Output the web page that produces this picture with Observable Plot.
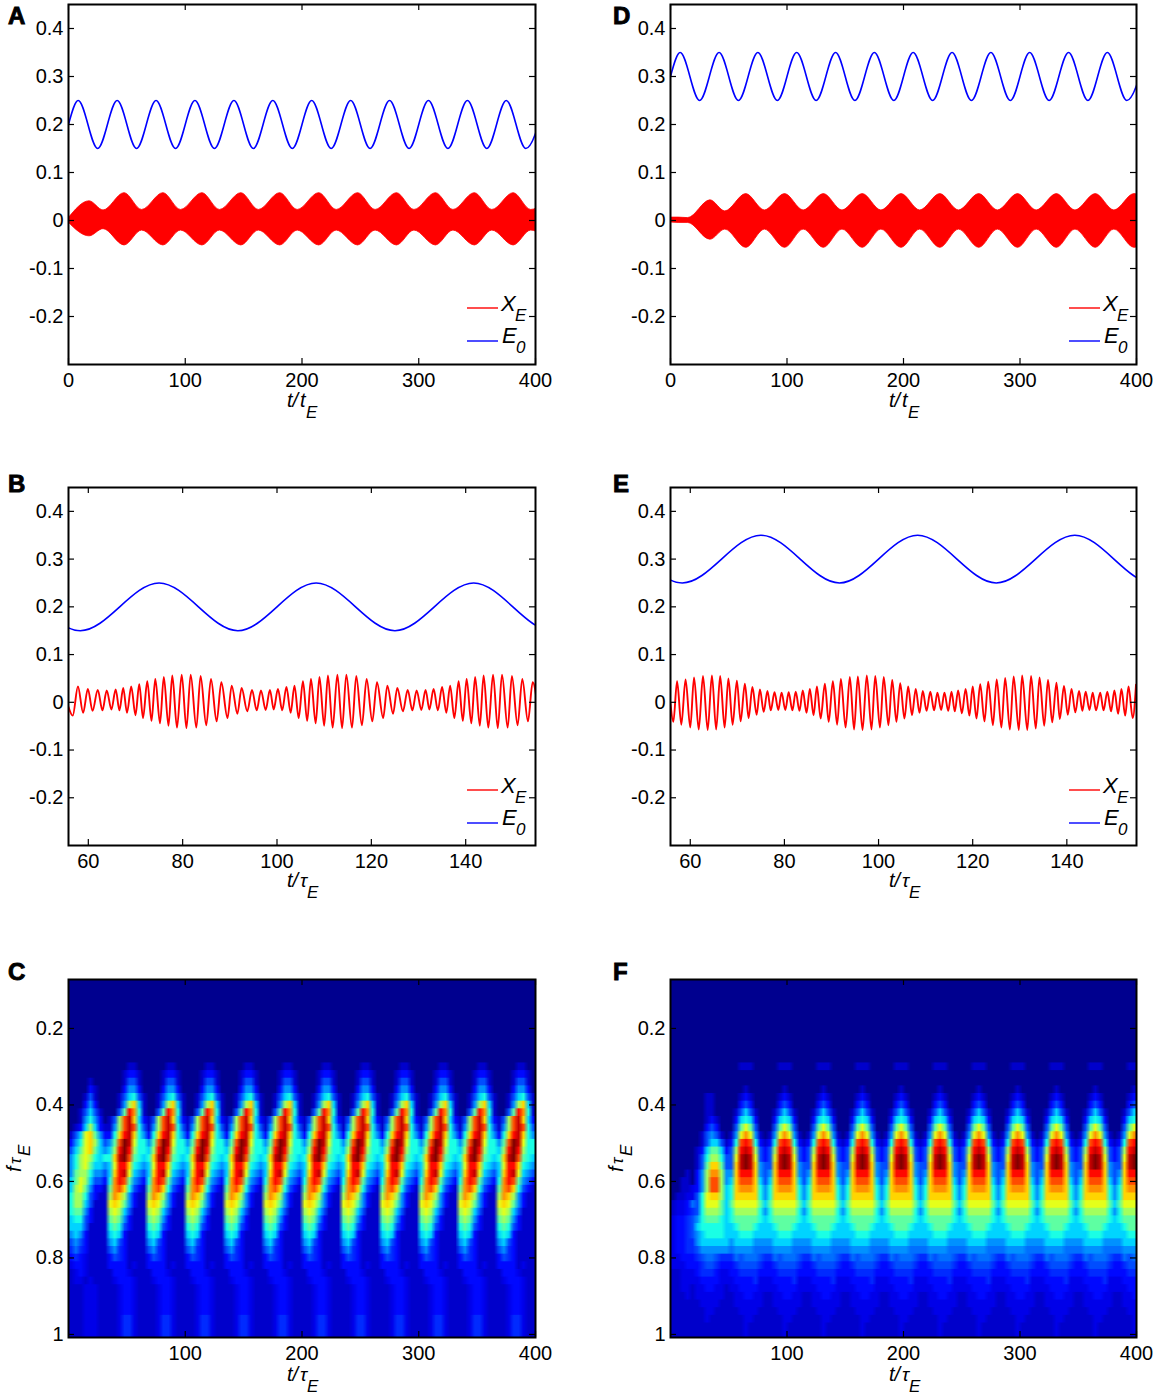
<!DOCTYPE html>
<html><head><meta charset="utf-8">
<script src="https://cdn.jsdelivr.net/npm/d3@7"></script>
<script src="https://cdn.jsdelivr.net/npm/@observablehq/plot@0.6"></script>
<style>
html,body{margin:0;padding:0;background:#fff}
#page{position:relative;width:1158px;height:1397px;overflow:hidden;font-family:"Liberation Sans",Arial,sans-serif}
#page>div,#page>svg{position:absolute}
#page svg{background:transparent}
</style></head><body><div id="page"></div>
<script>
// ---- E0 drive (extrema, same time base in all line panels)
const tDrive=[0,8.3,25,41.7,58.3,75,91.7,108.3,125,141.7,158.3,175,191.7,208.3,225,241.7,258.3,275,291.7,308.3,325,341.7,358.3,375,391.7,408.3];
const driveLeft=[.2,.25,.15,.25,.15,.25,.15,.25,.15,.25,.15,.25,.15,.25,.15,.25,.15,.25,.15,.25,.15,.25,.15,.25,.15,.25];
const driveRight=[.3,.35,.25,.35,.25,.35,.25,.35,.25,.35,.25,.35,.25,.35,.25,.35,.25,.35,.25,.35,.25,.35,.25,.35,.25,.35];
// ---- Panel A envelope of the dense X_E oscillation
const tEnvA=[0,18,30,48,63,81.3,96.3,114.7,129.7,148,163,181.3,196.3,214.7,229.7,248,263,281.3,296.3,314.7,329.7,348,363,381.3,396.3,414.7];
const upA=[.004,.04,.021,.057,.022,.057,.022,.057,.022,.057,.022,.057,.022,.057,.022,.057,.022,.057,.022,.057,.022,.057,.022,.057,.022,.057];
const loA=[-.004,-.033,-.018,-.052,-.021,-.052,-.021,-.052,-.021,-.052,-.021,-.052,-.021,-.052,-.021,-.052,-.021,-.052,-.021,-.052,-.021,-.052,-.021,-.052,-.021,-.052];
// ---- Panel D envelope
const tEnvD=[0,7,15,34.3,47,65,81,98.3,114.3,131.6,147.6,165,181,198.3,214.3,231.6,247.6,265,281,298.3,314.3,331.6,347.6,365,381,398.3,414.3];
const upD=[.006,.006,.005,.042,.019,.055,.021,.055,.021,.055,.021,.055,.021,.055,.021,.055,.021,.055,.021,.055,.021,.055,.021,.055,.021,.055,.021];
const loD=[-.004,-.005,-.005,-.04,-.019,-.057,-.019,-.057,-.019,-.057,-.019,-.057,-.019,-.057,-.019,-.057,-.019,-.057,-.019,-.057,-.019,-.057,-.019,-.057,-.019,-.057,-.019];
// ---- Panel B X_E extrema
const tB=[55.8,56.7,57.8,58.9,59.9,60.9,62,63,63.9,64.9,65.8,66.6,67.4,68.2,69.1,70,70.8,71.6,72.5,73.4,74.2,75.2,76,77,77.8,78.8,79.8,80.8,81.7,82.9,83.8,85,86,87.2,88.2,89.5,90.4,91.6,92.5,93.7,94.7,95.7,96.6,97.6,98.5,99.3,100.2,101.1,102,102.9,103.7,104.6,105.5,106.4,107.2,108.2,109,110,110.8,111.8,112.8,113.8,114.7,115.9,116.8,118,119,120.2,121.2,122.5,123.4,124.6,125.5,126.7,127.7,128.7,129.6,130.6,131.5,132.3,133.2,134.1,135,135.9,136.7,137.6,138.5,139.4,140.2,141.2,142,143,143.8,144.8,145.8,146.8,147.7,148.9,149.8,151,152,153.2,154.2,155.5];
const xB=[-.01,-.028,.033,-.022,.028,-.018,.026,-.017,.025,-.015,.027,-.017,.03,-.022,.033,-.027,.038,-.033,.044,-.039,.049,-.044,.053,-.049,.056,-.053,.058,-.054,.058,-.053,.055,-.048,.049,-.04,.042,-.033,.035,-.024,.03,-.019,.026,-.017,.025,-.016,.026,-.015,.028,-.017,.032,-.022,.035,-.033,.044,-.039,.049,-.044,.053,-.049,.056,-.053,.058,-.054,.058,-.053,.055,-.048,.049,-.04,.042,-.033,.035,-.024,.03,-.019,.026,-.017,.025,-.016,.026,-.015,.028,-.017,.032,-.022,.035,-.033,.044,-.039,.049,-.044,.053,-.049,.056,-.053,.058,-.054,.058,-.053,.055,-.048,.049,-.04,.042,-.033];
// ---- Panel E X_E extrema
const tE=[55.8,56.4,57.2,58.1,59.0,60.0,60.8,61.8,62.7,63.7,64.6,65.5,66.35,67.3,68.1,69.0,69.9,70.7,71.6,72.4,73.2,74.1,74.8,75.6,76.4,77.1,77.9,78.7,79.4,80.2,80.9,81.7,82.4,83.2,83.9,84.7,85.4,86.2,86.9,87.7,88.6,89.4,90.3,91.2,92.0,93,93.9,94.8,95.6,96.6,97.5,98.5,99.3,100.3,101.1,102.1,102.9,103.8,104.6,105.5,106.3,107.1,107.9,108.7,109.4,110.2,111,111.8,112.5,113.3,114,114.8,115.5,116.2,116.9,117.7,118.5,119.3,120,120.8,121.6,122.5,123.3,124.3,125.1,126.1,126.9,127.9,128.7,129.8,130.5,131.6,132.4,133.4,134.2,135.2,136,136.9,137.8,138.5,139.4,140.2,141,141.8,142.6,143.3,144,144.8,145.5,146.2,147.1,147.8,148.6,149.4,150.1,150.9,151.6,152.4,153.1,154,154.7];
const xE=[-.003,-.041,.044,-.047,.048,-.053,.052,-.057,.055,-.058,.056,-.057,.055,-.053,.05,-.047,.045,-.04,.039,-.033,.032,-.026,.027,-.02,.024,-.017,.021,-.016,.02,-.016,.021,-.017,.022,-.018,.025,-.022,.028,-.027,.033,-.034,.039,-.041,.044,-.047,.049,-.053,.053,-.057,.054,-.058,.056,-.057,.055,-.053,.053,-.048,.047,-.041,.04,-.034,.033,-.027,.028,-.022,.024,-.018,.022,-.017,.02,-.016,.02,-.018,.022,-.019,.025,-.023,.028,-.028,.033,-.034,.038,-.04,.043,-.048,.048,-.053,.051,-.057,.054,-.058,.056,-.058,.055,-.055,.052,-.049,.047,-.042,.041,-.035,.034,-.026,.028,-.021,.024,-.018,.022,-.016,.02,-.017,.02,-.017,.022,-.019,.025,-.024,.028,-.028,.033,-.033,.037];
// ---- Ticks
const yTicksLine=[-.2,-.1,0,.1,.2,.3,.4];
const xTicksLong=[0,100,200,300,400];
const xTicksShort=[60,80,100,120,140];
const xTicksMap=[100,200,300,400];
const yTicksMap=[.2,.4,.6,.8,1];
// ---- Spectrograms: power level per cell (hex digit, x/y/z = 1.5/2.5/3.5), row by row, t runs left to right
const freqs=[.08,.1,.12,.14,.16,.18,.2,.22,.24,.26,.28,.3,.32,.34,.36,.38,.4,.42,.44,.46,.48,.5,.52,.54,.56,.58,.6,.62,.64,.66,.68,.7,.72,.74,.76,.78,.8,.82,.84,.86,.88,.9,.92,.94,.96,.98,1];
const levelsC=["0","0","0","0","0","0","0","0","0","0","0",
"00000000 00001100 00001100 00001100 00001100 00001100 00001100 00001100 00001100 00001100 00001100 00001100",
"00000000 00012210 00012210 00012210 00012210 00012210 00012210 00012210 00012210 00012210 00012210 00012210",
"00001000 00013310 00013310 00013310 00013310 00013310 00013310 00013310 00013310 00013310 00013310 00013310",
"00002100 00024420 00024420 00024420 00024420 00024420 00024420 00024420 00024420 00024420 00024420 00024420",
"00013100 00135631 00135631 00135631 00135631 00135631 00135631 00135631 00135631 00135631 00135631 00135631",
"00024200 00148a51 00148a51 00148a51 00148a51 00148a51 00148a51 00148a51 00148a51 00148a51 00148a51 00148a51",
"00135310 0037db61 0037db61 0037db61 0037db61 0037db61 0037db61 0037db61 0037db61 0037db61 0037db61 0037db61",
"00146420 138cea52 138cea52 138cea52 138cea52 138cea52 138cea52 138cea52 138cea52 138cea52 138cea52 138cea52",
"01258521 148cec63 148cec63 148cec63 148cec63 148cec63 148cec63 148cec63 148cec63 148cec63 148cec63 148cec63",
"1359a742 26adea64 26adea64 26adea64 26adea64 26adea64 26adea64 26adea64 26adea64 26adea64 26adea64 26adea64",
"2469a853 47cfe966 47cfe966 47cfe966 47cfe966 47cfe966 47cfe966 47cfe966 47cfe966 47cfe966 47cfe966 47cfe966",
"3579a754 58dfd866 58dfd866 58dfd866 58dfd866 58dfd866 58dfd866 58dfd866 58dfd866 58dfd866 58dfd866 58dfd866",
"46898656 6aefc765 6aefc765 6aefc765 6aefc765 6aefc765 6aefc765 6aefc765 6aefc765 6aefc765 6aefc765 6aefc765",
"46897554 59dda654 59dda654 59dda654 59dda654 59dda654 59dda654 59dda654 59dda654 59dda654 59dda654 59dda654",
"47886443 5ade9543 5ade9543 5ade9543 5ade9543 5ade9543 5ade9543 5ade9543 5ade9543 5ade9543 5ade9543 5ade9543",
"57985332 6bdc7432 6bdc7432 6bdc7432 6bdc7432 6bdc7432 6bdc7432 6bdc7432 6bdc7432 6bdc7432 6bdc7432 6bdc7432",
"58974221 7bca6321 7bca6321 7bca6321 7bca6321 7bca6321 7bca6321 7bca6321 7bca6321 7bca6321 7bca6321 7bca6321",
"68863211 8ba84211 8ba84211 8ba84211 8ba84211 8ba84211 8ba84211 8ba84211 8ba84211 8ba84211 8ba84211 8ba84211",
"68853111 9a974211 9a974211 9a974211 9a974211 9a974211 9a974211 9a974211 9a974211 9a974211 9a974211 9a974211",
"67742111 89853111 89853111 89853111 89853111 89853111 89853111 89853111 89853111 89853111 89853111 89853111",
"56632111 78742111 78742111 78742111 78742111 78742111 78742111 78742111 78742111 78742111 78742111 78742111",
"55531111 67632111 67632111 67632111 67632111 67632111 67632111 67632111 67632111 67632111 67632111 67632111",
"45421111 56521111 56521111 56521111 56521111 56521111 56521111 56521111 56521111 56521111 56521111 56521111",
"34321111 45321111 45321111 45321111 45321111 45321111 45321111 45321111 45321111 45321111 45321111 45321111",
"yzy21111 34y21111 34y21111 34y21111 34y21111 34y21111 34y21111 34y21111 34y21111 34y21111 34y21111 34y21111",
"2y2x1111 23y21111 23y21111 23y21111 23y21111 23y21111 23y21111 23y21111 23y21111 23y21111 23y21111 23y21111",
"x22x1111 22221x11 22221x11 22221x11 22221x11 22221x11 22221x11 22221x11 22221x11 22221x11 22221x11 22221x11",
"1x2x1111 1222x111 1222x111 1222x111 1222x111 1222x111 1222x111 1222x111 1222x111 1222x111 1222x111 1222x111",
"1xx1x111 1x222x11 1x222x11 1x222x11 1x222x11 1x222x11 1x222x11 1x222x11 1x222x11 1x222x11 1x222x11 1x222x11",
"111xxx11 11x22x11 11x22x11 11x22x11 11x22x11 11x22x11 11x22x11 11x22x11 11x22x11 11x22x11 11x22x11 11x22x11",
"111xxx11 11x22x11 11x22x11 11x22x11 11x22x11 11x22x11 11x22x11 11x22x11 11x22x11 11x22x11 11x22x11 11x22x11",
"111xxx11 11x22x11 11x22x11 11x22x11 11x22x11 11x22x11 11x22x11 11x22x11 11x22x11 11x22x11 11x22x11 11x22x11",
"111xxx11 11x22x11 11x22x11 11x22x11 11x22x11 11x22x11 11x22x11 11x22x11 11x22x11 11x22x11 11x22x11 11x22x11",
"111xxx11 11xyyx11 11xyyx11 11xyyx11 11xyyx11 11xyyx11 11xyyx11 11xyyx11 11xyyx11 11xyyx11 11xyyx11 11xyyx11",
"111xxx11 11xyyx11 11xyyx11 11xyyx11 11xyyx11 11xyyx11 11xyyx11 11xyyx11 11xyyx11 11xyyx11 11xyyx11 11xyyx11",
"111xxx11 11xyyx11 11xyyx11 11xyyx11 11xyyx11 11xyyx11 11xyyx11 11xyyx11 11xyyx11 11xyyx11 11xyyx11 11xyyx11"];
const levelsF=["0","0","0","0","0","0","0","0","0","0","0",
"0000 00000000 00111000 00111000 00111000 00111000 00111000 00111000 00111000 00111000 00111000 00111000 0011",
"0","0",
"0000 00000000 00010000 00010000 00010000 00010000 00010000 00010000 00010000 00010000 00010000 00010000 0001",
"0000 00011000 00121000 00121000 00121000 00121000 00121000 00121000 00121000 00121000 00121000 00121000 0012",
"0000 00011000 00232000 00232000 00232000 00232000 00232000 00232000 00232000 00232000 00232000 00232000 0023",
"0000 00011000 01353100 01353100 01353100 01353100 01353100 01353100 01353100 01353100 01353100 01353100 0135",
"0000 00012100 02565200 02565200 02565200 02565200 02565200 02565200 02565200 02565200 02565200 02565200 0256",
"0000 00023200 03797300 03797300 03797300 03797300 03797300 03797300 03797300 03797300 03797300 03797300 0379",
"0000 00134310 149b9410 149b9410 149b9410 149b9410 149b9410 149b9410 149b9410 149b9410 149b9410 149b9410 149b",
"0000 00135531 26cdc621 26cdc621 26cdc621 26cdc621 26cdc621 26cdc621 26cdc621 26cdc621 26cdc621 26cdc621 26cd",
"0000 01257752 38ded832 38ded832 38ded832 38ded832 38ded832 38ded832 38ded832 38ded832 38ded832 38ded832 38de",
"0000 01368863 39efe932 39efe932 39efe932 39efe932 39efe932 39efe932 39efe932 39efe932 39efe932 39efe932 39ef",
"0000 0137aa73 3aefea43 3aefea43 3aefea43 3aefea43 3aefea43 3aefea43 3aefea43 3aefea43 3aefea43 3aefea43 3aef",
"0001 0248bb84 4addda43 4addda43 4addda43 4addda43 4addda43 4addda43 4addda43 4addda43 4addda43 4addda43 4add",
"0011 0248cc84 5accca53 5accca53 5accca53 5accca53 5accca53 5accca53 5accca53 5accca53 5accca53 5accca53 5acc",
"0011 x248cc85 6abbba64 6abbba64 6abbba64 6abbba64 6abbba64 6abbba64 6abbba64 6abbba64 6abbba64 6abbba64 6abb",
"011x x369aa85 6aaaaa64 6aaaaa64 6aaaaa64 6aaaaa64 6aaaaa64 6aaaaa64 6aaaaa64 6aaaaa64 6aaaaa64 6aaaaa64 6aaa",
"1xx2 z3699975 79999975 79999975 79999975 79999975 79999975 79999975 79999975 79999975 79999975 79999975 7999",
"1xx2 y3688875 68888864 68888864 68888864 68888864 68888864 68888864 68888864 68888864 68888864 68888864 6888",
"x22y 34677765 67777765 67777765 67777765 67777765 67777765 67777765 67777765 67777765 67777765 67777765 6777",
"x22y 35666665 56777655 56777655 56777655 56777655 56777655 56777655 56777655 56777655 56777655 56777655 5677",
"x22y 34566665 55666555 55666555 55666555 55666555 55666555 55666555 55666555 55666555 55666555 55666555 5566",
"x22y y4555555 45555444 45555444 45555444 45555444 45555444 45555444 45555444 45555444 45555444 45555444 4555",
"x22y y3444444 z4444zzz z4444zzz z4444zzz z4444zzz z4444zzz z4444zzz z4444zzz z4444zzz z4444zzz z4444zzz z444",
"xx22 2y3zz3yy yz3zzz3y yz3zzz3y yz3zzz3y yz3zzz3y yz3zzz3y yz3zzz3y yz3zzz3y yz3zzz3y yz3zzz3y yz3zzz3y yz3z",
"xxx2 22y33y22 2y3333y2 2y3333y2 2y3333y2 2y3333y2 2y3333y2 2y3333y2 2y3333y2 2y3333y2 2y3333y2 2y3333y2 2y33",
"11xx x2yyy2xx 22yyyy22 22yyyy22 22yyyy22 22yyyy22 22yyyy22 22yyyy22 22yyyy22 22yyyy22 22yyyy22 22yyyy22 22yy",
"11xx xx2222xx x2222yxx x2222yxx x2222yxx x2222yxx x2222yxx x2222yxx x2222yxx x2222yxx x2222yxx x2222yxx x222",
"11xx 1xx22xx1 xx2222xx xx2222xx xx2222xx xx2222xx xx2222xx xx2222xx xx2222xx xx2222xx xx2222xx xx2222xx xx22",
"111x 1xxxxxx1 1xx22xx1 1xx22xx1 1xx22xx1 1xx22xx1 1xx22xx1 1xx22xx1 1xx22xx1 1xx22xx1 1xx22xx1 1xx22xx1 1xx2",
"1111 11xxxx11 1xxxxxx1 1xxxxxx1 1xxxxxx1 1xxxxxx1 1xxxxxx1 1xxxxxx1 1xxxxxx1 1xxxxxx1 1xxxxxx1 1xxxxxx1 1xxx",
"1111 111xx111 11xxxx11 11xxxx11 11xxxx11 11xxxx11 11xxxx11 11xxxx11 11xxxx11 11xxxx11 11xxxx11 11xxxx11 11xx",
"1111 111x1111 111xx111 111xx111 111xx111 111xx111 111xx111 111xx111 111xx111 111xx111 111xx111 111xx111 111x",
"1111 11111111 111x1111 111x1111 111x1111 111x1111 111x1111 111x1111 111x1111 111x1111 111x1111 111x1111 111x",
"1111 11111111 111x1111 111x1111 111x1111 111x1111 111x1111 111x1111 111x1111 111x1111 111x1111 111x1111 111x"];
const halfLevels={x:1.5,y:2.5,z:3.5};
const jetStops=[0,.125,.375,.625,.875,1];
const jetColors=["#00008f","#0000ff","#00ffff","#ffff00","#ff0000","#800000"];

const page=document.getElementById("page");
const RED="#ff0000",BLUE="#0000ff",FONT='"Liberation Sans",Arial,sans-serif';
function frameMarks(xT,yT,fw,fh){
  const tw=1.2;
  return [
    Plot.tickX(xT,{insetTop:fh-6,stroke:"#000",strokeWidth:tw}),
    Plot.tickX(xT,{insetBottom:fh-6,stroke:"#000",strokeWidth:tw}),
    Plot.tickY(yT,{insetRight:fw-6,stroke:"#000",strokeWidth:tw}),
    Plot.tickY(yT,{insetLeft:fw-6,stroke:"#000",strokeWidth:tw}),
    Plot.axisX(xT,{tickSize:0,tickPadding:8,fontSize:20,label:null,tickFormat:d=>String(d)}),
    Plot.axisY(yT,{tickSize:0,tickPadding:5,fontSize:20,label:null,tickFormat:d=>String(d)}),
    Plot.frame({stroke:"#000",strokeWidth:2})
  ];
}
function place(el,left,top){el.style.left=left+"px";el.style.top=top+"px";el.style.position="absolute";page.appendChild(el);}
function panel(cfg){
  const {left,top,fw,fh,xDomain,yDomain,marks,xT,yT,color}=cfg;
  const svg=Plot.plot({width:68+fw+20,height:4+fh+36,marginLeft:68,marginRight:20,marginTop:4,marginBottom:36,
    x:{domain:xDomain},y:{domain:yDomain},color:color,
    style:{fontFamily:FONT,fontSize:"20px",color:"#000",background:"transparent",overflow:"visible"},
    marks:[...marks,...frameMarks(xT,yT,fw,fh)]});
  place(svg,left,top);
}
function zip(t,v){return t.map((x,i)=>({t:x,v:v[i]}));}
function driveLine(vals){return Plot.line(zip(tDrive,vals),{x:"t",y:"v",stroke:BLUE,strokeWidth:1.6,curve:"monotone-x",clip:true});}
function envelope(t,up,lo){
  const d=t.map((x,i)=>({t:x,u:up[i],l:lo[i]}));
  return Plot.areaY(d,{x:"t",y1:"l",y2:"u",fill:RED,stroke:RED,strokeWidth:.8,curve:"monotone-x",clip:true});
}
function fastLine(t,v){return Plot.line(zip(t,v),{x:"t",y:"v",stroke:RED,strokeWidth:1.9,curve:"monotone-x",clip:true});}

const lineY=[-.3,.45];
panel({left:0,top:0,fw:467,fh:360,xDomain:[0,400],yDomain:lineY,xT:xTicksLong,yT:yTicksLine,marks:[envelope(tEnvA,upA,loA),driveLine(driveLeft)]});
panel({left:602,top:0,fw:466,fh:360,xDomain:[0,400],yDomain:lineY,xT:xTicksLong,yT:yTicksLine,marks:[envelope(tEnvD,upD,loD),driveLine(driveRight)]});
panel({left:0,top:483,fw:467,fh:358,xDomain:[55.8,154.8],yDomain:lineY,xT:xTicksShort,yT:yTicksLine,marks:[fastLine(tB,xB),driveLine(driveLeft)]});
panel({left:602,top:483,fw:466,fh:358,xDomain:[55.8,154.8],yDomain:lineY,xT:xTicksShort,yT:yTicksLine,marks:[fastLine(tE,xE),driveLine(driveRight)]});

function mapMarks(levels){
  return levels.map((row,i)=>{
    let s=row.replace(/ /g,"");
    s=s.padEnd(96,s[s.length-1]).slice(0,96);
    const vals=Array.from(s,c=>(halfLevels[c]??parseInt(c,16))/15);
    return Plot.raster(vals,{width:96,height:1,x1:0,x2:400,y1:freqs[i]-.0112,y2:freqs[i]+.0112,imageRendering:"auto",clip:true});
  });
}
const jet={type:"linear",domain:jetStops,range:jetColors,interpolate:"rgb",clamp:true};
panel({left:0,top:975,fw:467,fh:358,xDomain:[0,400],yDomain:[1.008,.072],xT:xTicksMap,yT:yTicksMap,color:jet,marks:mapMarks(levelsC)});
panel({left:602,top:975,fw:466,fh:358,xDomain:[0,400],yDomain:[1.008,.072],xT:xTicksMap,yT:yTicksMap,color:jet,marks:mapMarks(levelsF)});

// ---- annotations (panel letters, axis titles with subscripts, legends)
const ns="http://www.w3.org/2000/svg";
const ov=document.createElementNS(ns,"svg");
ov.setAttribute("width",1158);ov.setAttribute("height",1397);ov.style.left="0";ov.style.top="0";ov.style.pointerEvents="none";ov.style.fontFamily=FONT;
page.appendChild(ov);
function txt(x,y,s,size,opt={}){
  const e=document.createElementNS(ns,"text");
  e.setAttribute("x",x);e.setAttribute("y",y);e.setAttribute("font-size",size);e.setAttribute("fill","#000");
  if(opt.italic)e.setAttribute("font-style","italic");
  if(opt.bold){e.setAttribute("font-weight","bold");e.setAttribute("stroke","#000");e.setAttribute("stroke-width",".9");}
  if(opt.transform)e.setAttribute("transform",opt.transform);
  e.textContent=s;ov.appendChild(e);return e;
}
function seg(x1,x2,y,c){
  const l=document.createElementNS(ns,"line");
  l.setAttribute("x1",x1);l.setAttribute("x2",x2);l.setAttribute("y1",y);l.setAttribute("y2",y);l.setAttribute("stroke",c);l.setAttribute("stroke-width",1.4);ov.appendChild(l);
}
[["A",8,24],["B",8,492],["C",8,980],["D",613,24],["E",613,492],["F",613,980]].forEach(([s,x,y])=>txt(x,y,s,24,{bold:true}));
function legend(dx,dy){
  seg(467+dx,498+dx,308+dy,RED);seg(467+dx,498+dx,341+dy,BLUE);
  txt(501+dx,311+dy,"X",22,{italic:true});txt(515+dx,321+dy,"E",17,{italic:true});
  txt(502+dx,343+dy,"E",22,{italic:true});txt(516+dx,353+dy,"0",17,{italic:true});
}
legend(0,0);legend(602,0);legend(0,482);legend(602,482);
function xTitle(dx,base,greek){
  txt(287+dx,base,"t/",20,{italic:true});
  txt(300+dx,base,greek?"τ":"t",greek?19:20,{italic:true});
  txt(greek?307+dx:306+dx,base+11,"E",17,{italic:true});
}
xTitle(0,407,false);xTitle(602,407,false);xTitle(0,887,true);xTitle(602,887,true);xTitle(0,1381,true);xTitle(602,1381,true);
function yTitle(dx){
  txt(0,0,"f",20,{italic:true,transform:`translate(${21+dx},1172) rotate(-90)`});
  txt(0,0,"τ",17,{italic:true,transform:`translate(${21+dx},1164) rotate(-90)`});
  txt(0,0,"E",17,{italic:true,transform:`translate(${30+dx},1156) rotate(-90)`});
}
yTitle(0);yTitle(602);
</script></body></html>
